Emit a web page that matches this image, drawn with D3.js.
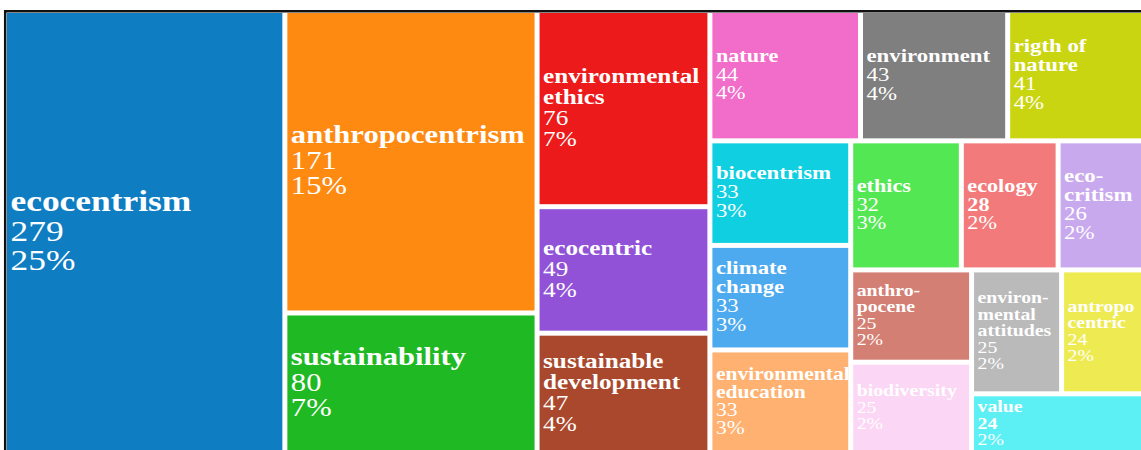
<!DOCTYPE html>
<html>
<head>
<meta charset="utf-8">
<script src="https://cdn.jsdelivr.net/npm/d3@7"></script>
<style>
  html, body { margin: 0; padding: 0; background: #ffffff; }
  svg { display: block; }
</style>
</head>
<body>
<svg id="chart" width="1141" height="450"></svg>
<script>
// Keyword frequencies
const categories = [
  "ecocentrism", "anthropocentrism", "sustainability", "environmental ethics",
  "ecocentric", "sustainable development", "nature", "environment",
  "rigth of nature", "biocentrism", "climate change", "environmental education",
  "ethics", "ecology", "eco-critism", "anthropocene", "biodiversity",
  "environmental attitudes", "antropocentric", "value"
];
const counts = [279, 171, 80, 76, 49, 47, 44, 43, 41, 33, 33, 33, 32, 28, 26, 25, 25, 25, 24, 24];

// How each label is broken across lines inside its tile
const labelLines = [
  ["ecocentrism"], ["anthropocentrism"], ["sustainability"], ["environmental", "ethics"],
  ["ecocentric"], ["sustainable", "development"], ["nature"], ["environment"],
  ["rigth of", "nature"], ["biocentrism"], ["climate", "change"], ["environmental", "education"],
  ["ethics"], ["ecology"], ["eco-", "critism"], ["anthro-", "pocene"], ["biodiversity"],
  ["environ-", "mental", "attitudes"], ["antropo", "centric"], ["value"]
];

// Styling
const colors = [
  "#0e7dc2", "#fe8a12", "#1fb924", "#ec1a1a", "#9152d8", "#a9482c", "#f26cc9", "#7f7f7f",
  "#cad512", "#0fcfe0", "#4daaef", "#feb170", "#54e754", "#f37a7a", "#c9a9ee", "#d37f74",
  "#fcd6f5", "#bababa", "#eeeb52", "#5cf0f5"
];
const labelSizes = [29.5, 25.5, 25.5, 21, 21, 21, 18.5, 19, 19, 19, 19, 18, 18.5, 18.5, 19, 16.5, 16.5, 16.5, 16.5, 16.5];
const boldCount = ["ecology", "value"];

const svg = d3.select("#chart");

const total = d3.sum(counts);
const rows = categories.map((name, i) => ({
  name, value: counts[i], lines: labelLines[i], color: colors[i], size: labelSizes[i]
}));

// Tiling box (gap centres) and gutter between tiles
const box = { x0: 4.5, y0: 10.5, x1: 1148, y1: 454.5 };
const gap = 5;

const root = d3.hierarchy({ children: rows }).sum(d => d.value || 0);

d3.treemap()
  .tile(d3.treemapSquarify.ratio(1))
  .size([box.x1 - box.x0 - gap, box.y1 - box.y0 - gap])
  .paddingInner(gap)(root);

const g = svg.append("g")
  .attr("transform", `translate(${box.x0 + gap / 2},${box.y0 + gap / 2})`);

const cell = g.selectAll("g.cell")
  .data(root.leaves())
  .join("g")
  .attr("class", "cell");

cell.append("rect")
  .attr("x", d => d.x0)
  .attr("y", d => d.y0)
  .attr("width", d => d.x1 - d.x0)
  .attr("height", d => d.y1 - d.y0)
  .attr("fill", d => d.data.color);

const stretch = 1.2;

cell.each(function (d) {
  const fs = d.data.size;
  const lh = fs * 1.0;
  const lines = d.data.lines.map(t => ({ text: t, bold: true }))
    .concat([
      { text: String(d.data.value), bold: boldCount.includes(d.data.name) },
      { text: Math.round(d.data.value / total * 100) + "%", bold: false }
    ]);
  const cy = (d.y0 + d.y1) / 2;
  const first = cy - (lines.length * lh) / 2 + lh * 0.78;
  const x = d.x0 + 3.5;
  d3.select(this).selectAll("text")
    .data(lines)
    .join("text")
    .attr("transform", (l, i) => `translate(${x},${first + i * lh}) scale(${stretch},1)`)
    .attr("font-family", "'Liberation Serif', 'Times New Roman', serif")
    .attr("font-size", fs)
    .attr("font-weight", l => l.bold ? "bold" : "normal")
    .attr("fill", "#ffffff")
    .text(l => l.text);
});

// Frame along the top and left edges
svg.append("line")
  .attr("x1", 4).attr("x2", 1141).attr("y1", 11.2).attr("y2", 11.2)
  .attr("stroke", "#111").attr("stroke-width", 2.5);
svg.append("line")
  .attr("x1", 5.2).attr("x2", 5.2).attr("y1", 10).attr("y2", 450)
  .attr("stroke", "#111").attr("stroke-width", 2.5);
</script>
</body>
</html>
